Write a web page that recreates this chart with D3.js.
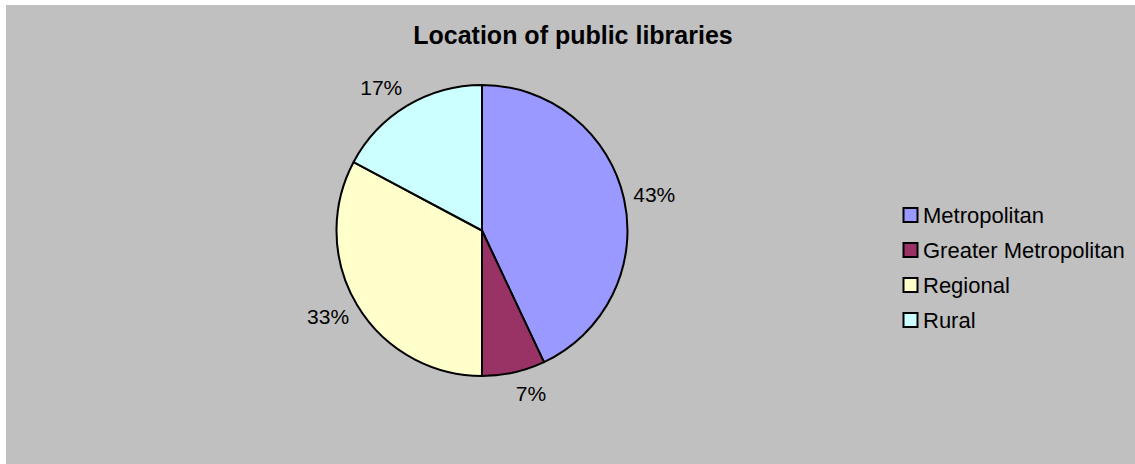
<!DOCTYPE html>
<html>
<head>
<meta charset="utf-8">
<script src="https://cdn.jsdelivr.net/npm/d3@7"></script>
<style>
  html, body { margin: 0; padding: 0; background: #ffffff; }
  svg { display: block; }
  text { font-family: "Liberation Sans", Arial, sans-serif; fill: #000; }
</style>
</head>
<body>
<svg id="chart" width="1135" height="464"></svg>
<script>
const title = "Location of public libraries";
const categories = ["Metropolitan", "Greater Metropolitan", "Regional", "Rural"];
const values = [43, 7, 32.8, 17.2];
const colors = ["#9999FF", "#993366", "#FFFFCC", "#CCFFFF"];

const W = 1135, H = 464;
const svg = d3.select("#chart");

// chart area background
svg.append("rect")
  .attr("x", 6).attr("y", 5)
  .attr("width", W - 6).attr("height", H - 5)
  .attr("fill", "#C0C0C0");

// title
svg.append("text")
  .attr("x", 573).attr("y", 44)
  .attr("text-anchor", "middle")
  .style("font-size", "25px")
  .style("font-weight", "bold")
  .text(title);

// pie
const cx = 482, cy = 230.5, R = 145.5;
const total = d3.sum(values);
const pie = d3.pie().sort(null).value(d => d)(values);
const arc = d3.arc().innerRadius(0).outerRadius(R);
const g = svg.append("g").attr("transform", `translate(${cx},${cy})`);

g.selectAll("path.slice")
  .data(pie)
  .join("path")
  .attr("class", "slice")
  .attr("d", arc)
  .attr("fill", (d, i) => colors[i])
  .attr("stroke", "#000")
  .attr("stroke-width", 2)
  .attr("stroke-linejoin", "round");

// percentage labels, placed outside along mid-angle
const labelR = 155, fs = 21, boxH = 24;
g.selectAll("text.lbl")
  .data(pie)
  .join("text")
  .attr("class", "lbl")
  .style("font-size", fs + "px")
  .attr("text-anchor", "middle")
  .text(d => Math.round(d.value / total * 100) + "%")
  .each(function(d) {
    const a = (d.startAngle + d.endAngle) / 2;
    const w = this.getComputedTextLength();
    const px = labelR * Math.sin(a), py = -labelR * Math.cos(a);
    const x = px + Math.sign(Math.sin(a)) * w / 2;
    const yc = py - Math.cos(a) * boxH / 2;
    d3.select(this).attr("x", x).attr("y", yc + 0.358 * fs);
  });

// legend
const legendY = d3.scalePoint().domain(categories).range([222.7, 327.7]);
const lg = svg.append("g");
const items = lg.selectAll("g.item")
  .data(categories)
  .join("g")
  .attr("class", "item")
  .attr("transform", d => `translate(0,${legendY(d)})`);

items.append("rect")
  .attr("x", 903.5).attr("y", -14.7)
  .attr("width", 14).attr("height", 14)
  .attr("fill", (d, i) => colors[i])
  .attr("stroke", "#000")
  .attr("stroke-width", 2);

items.append("text")
  .attr("x", 923)
  .attr("y", 0)
  .style("font-size", "22px")
  .text(d => d);
</script>
</body>
</html>
